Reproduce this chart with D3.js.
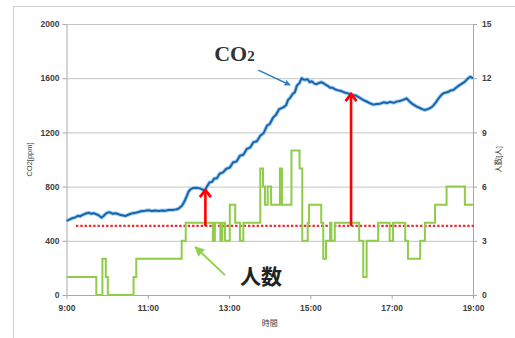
<!DOCTYPE html>
<html><head><meta charset="utf-8">
<script src="https://cdn.jsdelivr.net/npm/d3@7"></script>
<style>body{margin:0;background:#fff;} svg{display:block;}</style>
</head><body>
<script>
// ---- data ----
const co2Times = ["9:00","9:04","9:08","9:13","9:17","9:20","9:23","9:27","9:30","9:33","9:36","9:40","9:43","9:47","9:50","9:52","9:55","9:58","10:00","10:04","10:08","10:12","10:16","10:20","10:24","10:27","10:31","10:35","10:38","10:42","10:46","10:50","10:56","11:01","11:06","11:11","11:16","11:21","11:26","11:31","11:36","11:40","11:43","11:46","11:50","11:53","11:55","11:58","12:00","12:03","12:07","12:12","12:17","12:21","12:24","12:27","12:31","12:35","12:38","12:42","12:46","12:51","12:56","13:01","13:06","13:11","13:16","13:21","13:26","13:31","13:36","13:41","13:46","13:51","13:56","14:00","14:05","14:09","14:14","14:20","14:24","14:27","14:30","14:34","14:37","14:40","14:44","14:47","14:50","14:52","14:56","14:59","15:02","15:06","15:09","15:13","15:16","15:19","15:23","15:26","15:29","15:33","15:36","15:40","15:45","15:50","15:54","15:59","16:03","16:08","16:13","16:18","16:23","16:28","16:33","16:38","16:43","16:48","16:53","16:58","17:03","17:07","17:12","17:17","17:22","17:26","17:30","17:34","17:37","17:41","17:45","17:49","17:53","17:57","18:01","18:05","18:09","18:13","18:16","18:20","18:24","18:27","18:31","18:35","18:39","18:42","18:46","18:49","18:52","18:56","18:58","19:00"];
const co2Values = [548,556,566,573,585,580,590,598,604,607,600,604,598,590,578,571,585,600,607,610,600,603,598,590,586,583,592,600,604,607,612,618,622,626,620,624,620,624,622,628,627,630,632,640,657,680,701,735,762,780,790,792,787,778,768,798,830,835,860,862,895,905,932,940,980,985,1028,1035,1078,1088,1128,1135,1175,1195,1250,1262,1310,1328,1372,1385,1400,1440,1455,1485,1495,1545,1565,1600,1590,1588,1592,1570,1578,1560,1556,1565,1570,1565,1550,1542,1530,1530,1518,1512,1506,1495,1490,1482,1476,1470,1455,1439,1428,1415,1405,1410,1412,1422,1417,1425,1418,1427,1432,1440,1451,1430,1412,1400,1390,1382,1372,1365,1372,1380,1395,1420,1450,1475,1488,1494,1500,1510,1513,1530,1545,1555,1567,1580,1596,1611,1605,1599];

const peopleTimes = ["9:00","9:44","9:53","9:58","10:01","10:39","10:43","11:50","11:56","12:36","12:39","12:47","12:50","12:54","13:01","13:09","13:16","13:21","13:46","13:50","13:53","13:57","14:02","14:15","14:18","14:32","14:44","14:48","14:56","14:58","15:16","15:19","15:23","15:29","15:31","15:36","16:12","16:18","16:23","16:40","16:57","17:02","17:20","17:24","17:42","17:49","18:04","18:21","18:48","19:00"];
const peopleValues = [1,0,2,1,0,1,2,3,4,3,4,3,4,3,5,4,3,4,7,6,5,6,5,7,5,8,7,3,4,5,4,2,3,4,3,4,3,1,3,4,3,4,3,2,3,4,5,6,5,5];

const leftTicks = [0,400,800,1200,1600,2000];
const rightTicks = [0,3,6,9,12,15];
const xTickLabels = ["9:00","11:00","13:00","15:00","17:00","19:00"];
const baselinePpm = 510;
const baselineStart = "9:14";
const arrowTimes = ["12:25","16:00"];
const arrowTops = [782,1490];

// ---- layout ----
const W = 515, H = 338;
const L = 66.5, R = 473, T = 24, B = 295;
const parse = d3.timeParse("%H:%M");

const svg = d3.select("body").append("svg").attr("width", W).attr("height", H);
svg.append("rect").attr("x",13.5).attr("y",6.5).attr("width",520).attr("height",360)
  .attr("fill","#fff").attr("stroke","#d0d0d0").attr("stroke-width",1);

const x = d3.scaleTime().domain([parse("9:00"), parse("19:00")]).range([L, R]);
const y = d3.scaleLinear().domain([0, 2000]).range([B, T]);
const y2 = d3.scaleLinear().domain([0, 15]).range([B, T]);

// gridlines
svg.append("g").attr("transform",`translate(${L},0)`)
  .call(d3.axisLeft(y).tickValues(leftTicks.slice(1)).tickSize(-(R-L)).tickFormat(""))
  .call(g=>g.select(".domain").remove())
  .call(g=>g.selectAll("line").attr("stroke","#c4c4c4").attr("stroke-width",1));

const tickFont = g => g.selectAll("text").attr("font-family","Liberation Sans, Arial, sans-serif")
  .attr("font-size","8.5px").attr("font-weight","bold").attr("fill","#404040");
const axisCol = g => { g.select(".domain").attr("stroke","#a8a8a8"); g.selectAll(".tick line").attr("stroke","#a8a8a8"); };

// left axis
svg.append("g").attr("transform",`translate(${L},0)`)
  .call(d3.axisLeft(y).tickValues(leftTicks).tickSize(4).tickSizeOuter(0).tickPadding(3).tickFormat(d3.format("d")))
  .call(axisCol).call(tickFont);
// right axis
svg.append("g").attr("transform",`translate(${R},0)`)
  .call(d3.axisRight(y2).tickValues(rightTicks).tickSize(4).tickSizeOuter(0).tickPadding(5).tickFormat(d3.format("d")))
  .call(axisCol).call(tickFont);
// bottom axis
svg.append("g").attr("transform",`translate(0,${B})`)
  .call(d3.axisBottom(x).tickValues(xTickLabels.map(parse)).tickSize(4).tickSizeOuter(0).tickPadding(6).tickFormat(d3.timeFormat("%-H:%M")))
  .call(axisCol).call(tickFont);

// axis titles
const titleFont = s => s.attr("font-family","Liberation Sans, Noto Sans CJK JP, sans-serif").attr("font-size","7.5px").attr("fill","#404040").attr("text-anchor","middle");
svg.append("text").text("CO2[ppm]").attr("transform",`translate(32,${(T+B)/2}) rotate(-90)`).call(titleFont);
svg.append("text").text("人数[人]").attr("transform",`translate(501,${(T+B)/2}) rotate(-90)`).call(titleFont);
svg.append("text").text("時間").attr("x",(L+R)/2).attr("y",326).call(titleFont).attr("font-size","8px");

// baseline dotted
svg.append("line")
  .attr("x1", x(parse(baselineStart))).attr("x2", R+3)
  .attr("y1", y(baselinePpm)).attr("y2", y(baselinePpm))
  .attr("stroke","#e8302c").attr("stroke-width",2.2).attr("stroke-dasharray","2.4,1.9");

// people step line
const peopleData = peopleTimes.map((t,i)=>({t:parse(t), v:peopleValues[i]}));
svg.append("path").datum(peopleData)
  .attr("d", d3.line().x(d=>x(d.t)).y(d=>y2(d.v)).curve(d3.curveStepAfter))
  .attr("fill","none").attr("stroke","#8fcc4a").attr("stroke-width",2).attr("stroke-linejoin","miter");

// CO2 line
const co2Data = co2Times.map((t,i)=>({t:parse(t), v:co2Values[i]}));
const co2Line = d3.line().x(d=>x(d.t)).y(d=>y(d.v));
svg.append("path").datum(co2Data).attr("d", co2Line)
  .attr("fill","none").attr("stroke","#a6d4f2").attr("stroke-width",4).attr("stroke-linejoin","round");
svg.append("path").datum(co2Data).attr("d", co2Line)
  .attr("fill","none").attr("stroke","#1b63ab").attr("stroke-width",2).attr("stroke-linejoin","round");

// markers
const defs = svg.append("defs");
defs.append("marker").attr("id","blueHead").attr("viewBox","0 0 10 10").attr("refX",9).attr("refY",5)
  .attr("markerWidth",6).attr("markerHeight",6).attr("orient","auto").attr("markerUnits","userSpaceOnUse")
  .append("path").attr("d","M0,0 L10,5 L0,10 Z").attr("fill","#2f7ec1");
defs.append("marker").attr("id","greenHead").attr("viewBox","0 0 10 10").attr("refX",9).attr("refY",5)
  .attr("markerWidth",10).attr("markerHeight",10).attr("orient","auto").attr("markerUnits","userSpaceOnUse")
  .append("path").attr("d","M0,0 L10,5 L0,10 Z").attr("fill","#92d050");

// red arrows
arrowTimes.forEach((t,i)=>{
  const ax = x(parse(t)), y0 = y(baselinePpm), y1 = y(arrowTops[i]);
  svg.append("line").attr("x1",ax).attr("x2",ax).attr("y1",y0).attr("y2",y1+1)
    .attr("stroke","#ff0000").attr("stroke-width",2.6);
  svg.append("path").attr("d",`M${ax-5.5},${y1+8} L${ax},${y1+1} L${ax+5.5},${y1+8}`)
    .attr("fill","none").attr("stroke","#ff0000").attr("stroke-width",2.8).attr("stroke-linejoin","miter");
});

// CO2 label and arrow
const co2Lbl = svg.append("text").attr("x", x(parse("12:38"))).attr("y", y(1727))
  .attr("font-family","Liberation Serif, Times New Roman, serif").attr("font-weight","bold")
  .attr("font-size","22px").attr("fill","#333");
co2Lbl.append("tspan").text("CO");
co2Lbl.append("tspan").text("2").attr("font-size","15px");
svg.append("line").attr("x1",x(parse("13:43"))).attr("y1",y(1660)).attr("x2",x(parse("14:30"))).attr("y2",y(1550))
  .attr("stroke","#2f7ec1").attr("stroke-width",1.5).attr("marker-end","url(#blueHead)");

// people label and arrow
svg.append("text").text("人数").attr("x", x(parse("13:47"))).attr("y", y2(0.6))
  .attr("text-anchor","middle").attr("font-family","Noto Sans CJK JP, sans-serif").attr("font-weight","bold")
  .attr("font-size","21px").attr("fill","#222");
svg.append("line").attr("x1",x(parse("12:54"))).attr("y1",y2(1.1)).attr("x2",x(parse("12:10"))).attr("y2",y2(2.66))
  .attr("stroke","#92d050").attr("stroke-width",2).attr("marker-end","url(#greenHead)");
</script>
</body></html>
